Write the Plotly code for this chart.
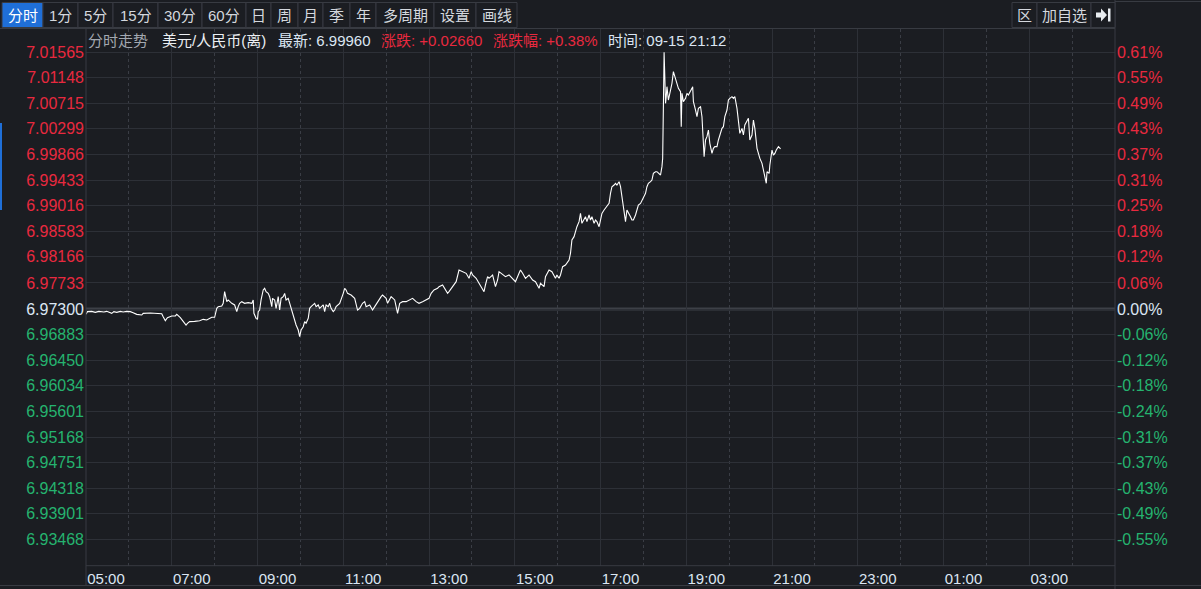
import plotly.graph_objects as go
from datetime import datetime, timedelta

# ---------------- data ----------------
trade_date = "2022-09-15"
base_price = 6.97300

times = [
    "05:00", "05:02", "05:08", "05:13", "05:18", "05:25", "05:29", "05:36", "05:39", "05:43",
    "05:48", "05:52", "05:57", "06:02", "06:06", "06:11", "06:18", "06:20", "06:30", "06:39",
    "06:46", "06:48", "06:51", "06:54", "07:00", "07:05", "07:07", "07:12", "07:16", "07:20",
    "07:22", "07:25", "07:32", "07:39", "07:44", "07:49", "07:56", "08:00", "08:03", "08:05",
    "08:10", "08:12", "08:14", "08:17", "08:19", "08:24", "08:28", "08:31", "08:33", "08:35",
    "08:38", "08:42", "08:47", "08:52", "08:54", "08:55", "08:58", "09:00", "09:01", "09:03",
    "09:05", "09:08", "09:10", "09:12", "09:15", "09:17", "09:20", "09:21", "09:24", "09:26",
    "09:29", "09:31", "09:33", "09:36", "09:38", "09:40", "09:43", "09:45", "09:47", "09:50",
    "09:52", "09:54", "09:57", "09:59", "10:01", "10:04", "10:06", "10:08", "10:11", "10:13",
    "10:15", "10:20", "10:22", "10:25", "10:27", "10:29", "10:32", "10:34", "10:36", "10:39",
    "10:41", "10:43", "10:46", "10:48", "10:50", "10:55", "10:57", "11:00", "11:02", "11:04",
    "11:06", "11:11", "11:16", "11:18", "11:20", "11:23", "11:27", "11:30", "11:32", "11:37",
    "11:41", "11:44", "11:48", "11:53", "11:55", "12:00", "12:02", "12:07", "12:12", "12:16",
    "12:19", "12:23", "12:28", "12:32", "12:37", "12:42", "12:46", "12:51", "12:56", "13:00",
    "13:03", "13:07", "13:12", "13:14", "13:19", "13:24", "13:26", "13:28", "13:33", "13:38",
    "13:42", "13:47", "13:52", "13:56", "13:59", "14:01", "14:06", "14:10", "14:15", "14:17",
    "14:19", "14:22", "14:24", "14:29", "14:33", "14:36", "14:38", "14:43", "14:47", "14:52",
    "14:57", "15:01", "15:06", "15:08", "15:11", "15:15", "15:20", "15:25", "15:29", "15:34",
    "15:36", "15:41", "15:43", "15:48", "15:52", "15:57", "15:59", "16:02", "16:04", "16:07",
    "16:11", "16:16", "16:18", "16:20", "16:23", "16:25", "16:27", "16:30", "16:32", "16:34",
    "16:37", "16:39", "16:41", "16:44", "16:46", "16:48", "16:51", "16:53", "16:55", "16:58",
    "17:00", "17:02", "17:05", "17:07", "17:09", "17:12", "17:14", "17:16", "17:19", "17:21",
    "17:23", "17:26", "17:28", "17:30", "17:33", "17:35", "17:37", "17:40", "17:42", "17:44",
    "17:46", "17:49", "17:51", "17:53", "17:56", "17:58", "18:00", "18:03", "18:05", "18:07",
    "18:10", "18:12", "18:14", "18:17", "18:19", "18:21", "18:24", "18:26", "18:27", "18:28",
    "18:29", "18:30", "18:31", "18:32", "18:33", "18:35", "18:38", "18:40", "18:42", "18:45",
    "18:47", "18:49", "18:52", "18:53", "18:54", "18:56", "18:59", "19:01", "19:03", "19:06",
    "19:08", "19:09", "19:10", "19:13", "19:15", "19:17", "19:20", "19:22", "19:23", "19:25",
    "19:27", "19:29", "19:31", "19:33", "19:36", "19:38", "19:40", "19:43", "19:45", "19:47",
    "19:50", "19:52", "19:54", "19:57", "19:59", "20:01", "20:04", "20:06", "20:08", "20:11",
    "20:13", "20:15", "20:18", "20:20", "20:22", "20:25", "20:27", "20:29", "20:32", "20:34",
    "20:36", "20:39", "20:41", "20:43", "20:46", "20:48", "20:50", "20:52", "20:53", "20:56",
    "20:57", "21:00", "21:02", "21:04", "21:06", "21:09", "21:12",
]

prices = [
    6.97211, 6.97256, 6.97261, 6.97245, 6.97261, 6.97250, 6.97261, 6.97228, 6.97256, 6.97245,
    6.97261, 6.97250, 6.97261, 6.97256, 6.97239, 6.97211, 6.97200, 6.97228, 6.97234, 6.97228,
    6.97222, 6.97173, 6.97106, 6.97156, 6.97184, 6.97184, 6.97211, 6.97156, 6.97101, 6.97034,
    6.97062, 6.97090, 6.97095, 6.97106, 6.97128, 6.97117, 6.97162, 6.97162, 6.97311, 6.97339,
    6.97350, 6.97394, 6.97588, 6.97422, 6.97450, 6.97394, 6.97367, 6.97256, 6.97339, 6.97394,
    6.97422, 6.97394, 6.97405, 6.97394, 6.97450, 6.97228, 6.97145, 6.97128, 6.97256, 6.97283,
    6.97450, 6.97616, 6.97643, 6.97588, 6.97560, 6.97505, 6.97339, 6.97477, 6.97450, 6.97311,
    6.97505, 6.97283, 6.97477, 6.97505, 6.97560, 6.97450, 6.97477, 6.97394, 6.97339, 6.97228,
    6.97117, 6.97034, 6.96951, 6.96840, 6.96951, 6.97006, 6.97090, 6.97062, 6.97145, 6.97311,
    6.97339, 6.97394, 6.97339, 6.97367, 6.97311, 6.97339, 6.97367, 6.97256, 6.97367, 6.97339,
    6.97394, 6.97311, 6.97256, 6.97283, 6.97339, 6.97394, 6.97450, 6.97560, 6.97643, 6.97616,
    6.97560, 6.97533, 6.97477, 6.97367, 6.97283, 6.97311, 6.97394, 6.97422, 6.97339, 6.97367,
    6.97283, 6.97339, 6.97422, 6.97505, 6.97533, 6.97477, 6.97394, 6.97505, 6.97450, 6.97228,
    6.97394, 6.97422, 6.97422, 6.97450, 6.97477, 6.97422, 6.97394, 6.97422, 6.97450, 6.97477,
    6.97560, 6.97616, 6.97643, 6.97671, 6.97699, 6.97588, 6.97560, 6.97588, 6.97671, 6.97754,
    6.97948, 6.97920, 6.97893, 6.97810, 6.97920, 6.97865, 6.97810, 6.97727, 6.97643, 6.97588,
    6.97699, 6.97837, 6.97810, 6.97865, 6.97671, 6.97782, 6.97920, 6.97865, 6.97837, 6.97865,
    6.97810, 6.97754, 6.97893, 6.97948, 6.97893, 6.97810, 6.97865, 6.97782, 6.97754, 6.97643,
    6.97727, 6.97671, 6.97837, 6.97948, 6.97920, 6.97810, 6.97865, 6.97810, 6.97865, 6.98003,
    6.98031, 6.98114, 6.98225, 6.98446, 6.98502, 6.98612, 6.98668, 6.98751, 6.98889, 6.98723,
    6.98778, 6.98834, 6.98751, 6.98862, 6.98778, 6.98834, 6.98723, 6.98778, 6.98751, 6.98668,
    6.98778, 6.98889, 6.98945, 6.98972, 6.99000, 6.99055, 6.99222, 6.99332, 6.99360, 6.99388,
    6.99360, 6.99415, 6.99332, 6.99166, 6.99000, 6.98751, 6.98945, 6.98889, 6.98834, 6.98778,
    6.98778, 6.98862, 6.98972, 6.99028, 6.99055, 6.99111, 6.99138, 6.99222, 6.99332, 6.99388,
    6.99415, 6.99443, 6.99554, 6.99581, 6.99581, 6.99554, 6.99526, 6.99665, 6.99803, 7.00661,
    7.01565, 7.01160, 7.00717, 7.00828, 7.00994, 7.00772, 7.00938, 7.01049, 7.01243, 7.01104,
    7.01049, 7.00966, 7.00911, 7.00329, 7.00883, 7.00744, 7.00800, 7.00883, 7.00855, 7.00911,
    7.00966, 7.00994, 7.00744, 7.00606, 7.00495, 7.00634, 7.00661, 7.00495, 7.00301, 6.99831,
    7.00108, 7.00163, 7.00274, 7.00052, 6.99886, 6.99969, 6.99997, 6.99997, 7.00108, 7.00191,
    7.00301, 7.00329, 7.00495, 7.00606, 7.00772, 7.00800, 7.00828, 7.00800, 7.00828, 7.00634,
    7.00440, 7.00218, 7.00301, 7.00191, 7.00357, 7.00440, 7.00468, 7.00108, 7.00191, 7.00440,
    7.00301, 6.99969, 6.99858, 6.99803, 6.99720, 6.99609, 6.99554, 6.99388, 6.99581, 6.99554,
    6.99692, 6.99941, 6.99858, 6.99886, 6.99941, 6.99997, 6.99960,
]

price_ticks = ["7.01565", "7.01148", "7.00715", "7.00299", "6.99866", "6.99433", "6.99016",
               "6.98583", "6.98166", "6.97733", "6.97300", "6.96883", "6.96450", "6.96034",
               "6.95601", "6.95168", "6.94751", "6.94318", "6.93901", "6.93468"]
pct_ticks = ["0.61%", "0.55%", "0.49%", "0.43%", "0.37%", "0.31%", "0.25%", "0.18%", "0.12%",
             "0.06%", "0.00%", "-0.06%", "-0.12%", "-0.18%", "-0.24%", "-0.31%", "-0.37%",
             "-0.43%", "-0.49%", "-0.55%"]
x_tick_labels = ["05:00", "07:00", "09:00", "11:00", "13:00", "15:00", "17:00", "19:00",
                 "21:00", "23:00", "01:00", "03:00"]

toolbar_labels = ["分时", "1分", "5分", "15分", "30分", "60分", "日", "周", "月", "季", "年",
                  "多周期", "设置", "画线"]
right_buttons = ["区", "加自选"]
title_name = "美元/人民币(离)"
title_kind = "分时走势"

# ---------------- derived ----------------
x_vals = [datetime.strptime(f"{trade_date} {t}", "%Y-%m-%d %H:%M") for t in times]
session_start = datetime.strptime(f"{trade_date} 05:00", "%Y-%m-%d %H:%M")
session_end = session_start + timedelta(hours=24)
x_tick_vals = [session_start + timedelta(hours=2 * i) for i in range(len(x_tick_labels))]

last_price = prices[-1]
change = last_price - base_price
change_pct = change / base_price * 100
last_time = x_vals[-1]

# ---------------- styling ----------------
W, H = 1201, 589
BG = "#1b1d22"
GRID = "#2d3037"
BORDER = "#383b42"
RED = "#e8293f"
GREEN = "#25b36f"
NEUTRAL = "#dbe6f3"
FONT = "Arial, 'Liberation Sans', 'Noto Sans CJK SC', sans-serif"


def px(x):
    return x / W


def py(y):
    return 1 - y / H


PLOT_L, PLOT_R, PLOT_T, PLOT_B = 86, 1115, 29, 565.7
Y_BASE_PX, Y_TOP_TICK_PX = 309.0, 52.3
k = (float(price_ticks[0]) - base_price) / (Y_BASE_PX - Y_TOP_TICK_PX)
y_range = [base_price - (PLOT_B - Y_BASE_PX) * k, base_price + (Y_BASE_PX - PLOT_T) * k]


def colored(label, value):
    if abs(value - base_price) < 1e-9:
        c = NEUTRAL
    elif value > base_price:
        c = RED
    else:
        c = GREEN
    return f"<span style='color:{c}'>{label}</span>"


tick_vals = [float(v) for v in price_ticks]
left_text = [colored(lbl, v) for lbl, v in zip(price_ticks, tick_vals)]
right_text = [colored(lbl, v) for lbl, v in zip(pct_ticks, tick_vals)]

fig = go.Figure()
fig.add_trace(go.Scatter(
    x=x_vals, y=prices, mode="lines",
    line=dict(color="#ffffff", width=1.1),
    hoverinfo="skip", showlegend=False,
))
fig.add_trace(go.Scatter(
    x=[x_vals[0]], y=[base_price], yaxis="y2", mode="markers",
    marker=dict(opacity=0), hoverinfo="skip", showlegend=False,
))

shapes = []
# baseline (previous close)
shapes.append(dict(type="line", xref="x domain", yref="y", x0=0, x1=1,
                   y0=base_price, y1=base_price, line=dict(color="#3d4047", width=3), layer="below"))
# frame lines
shapes.append(dict(type="line", xref="paper", yref="paper", x0=px(PLOT_L), x1=px(PLOT_L),
                   y0=py(28), y1=py(586), line=dict(color=BORDER, width=1)))
shapes.append(dict(type="line", xref="paper", yref="paper", x0=px(PLOT_R), x1=px(PLOT_R),
                   y0=py(0), y1=py(589), line=dict(color=BORDER, width=1)))
shapes.append(dict(type="line", xref="paper", yref="paper", x0=0, x1=px(PLOT_R),
                   y0=py(28.5), y1=py(28.5), line=dict(color=BORDER, width=1)))
shapes.append(dict(type="line", xref="paper", yref="paper", x0=px(PLOT_L), x1=px(PLOT_R),
                   y0=py(PLOT_B), y1=py(PLOT_B), line=dict(color=BORDER, width=1)))
shapes.append(dict(type="line", xref="paper", yref="paper", x0=0, x1=1,
                   y0=py(585.5), y1=py(585.5), line=dict(color=BORDER, width=1)))
shapes.append(dict(type="line", xref="paper", yref="paper", x0=px(PLOT_R), x1=1,
                   y0=py(1.5), y1=py(1.5), line=dict(color=BORDER, width=1)))
# left blue marker bar
shapes.append(dict(type="rect", xref="paper", yref="paper", x0=0, x1=px(2),
                   y0=py(210), y1=py(123), line=dict(width=0), fillcolor="#1f6fd8"))

# toolbar buttons
btn_edges = [2, 43, 78, 113, 158, 202, 246, 271, 298, 323, 350, 376, 434, 476, 517]
annotations = []
for i, lbl in enumerate(toolbar_labels):
    x0, x1 = btn_edges[i], btn_edges[i + 1]
    active = i == 0
    shapes.append(dict(type="rect", xref="paper", yref="paper", x0=px(x0), x1=px(x1),
                       y0=py(27.5), y1=py(2.5),
                       line=dict(color=BORDER, width=1),
                       fillcolor="#1f6fd8" if active else BG))
    annotations.append(dict(xref="paper", yref="paper", x=px((x0 + x1) / 2), y=py(15),
                            text=lbl, showarrow=False, xanchor="center", yanchor="middle",
                            font=dict(family=FONT, size=15, color="#ffffff" if active else "#d4d8de")))

rb_edges = [1012, 1037, 1091, 1115]
for i, lbl in enumerate(right_buttons):
    x0, x1 = rb_edges[i], rb_edges[i + 1]
    shapes.append(dict(type="rect", xref="paper", yref="paper", x0=px(x0), x1=px(x1),
                       y0=py(27.5), y1=py(2.5), line=dict(color=BORDER, width=1), fillcolor=BG))
    annotations.append(dict(xref="paper", yref="paper", x=px((x0 + x1) / 2), y=py(15),
                            text=lbl, showarrow=False, xanchor="center", yanchor="middle",
                            font=dict(family=FONT, size=15, color="#d4d8de")))
shapes.append(dict(type="rect", xref="paper", yref="paper", x0=px(1091), x1=px(1115),
                   y0=py(27.5), y1=py(2.5), line=dict(color=BORDER, width=1), fillcolor=BG))
# arrow icon
shapes.append(dict(type="path", xref="paper", yref="paper",
                   path=(f"M {px(1096)} {py(12.5)} L {px(1101)} {py(12.5)} L {px(1101)} {py(8.5)} "
                         f"L {px(1107)} {py(15)} L {px(1101)} {py(21.5)} L {px(1101)} {py(17.5)} "
                         f"L {px(1096)} {py(17.5)} Z"),
                   line=dict(width=0), fillcolor="#e8ecf0"))
shapes.append(dict(type="rect", xref="paper", yref="paper", x0=px(1108), x1=px(1110.5),
                   y0=py(21.5), y1=py(8.5), line=dict(width=0), fillcolor="#e8ecf0"))

# title row
sign = "+" if change >= 0 else "-"
title_parts = [
    (86, title_kind, "#a3a8b0"),
    (160, title_name, "#eceff3"),
    (276, f"最新: {last_price:.5f}", NEUTRAL),
    (379, f"涨跌: {sign}{abs(change):.5f}", RED if change >= 0 else GREEN),
    (491, f"涨跌幅: {sign}{abs(change_pct):.2f}%", RED if change >= 0 else GREEN),
    (606, f"时间: {last_time.strftime('%m-%d %H:%M')}", NEUTRAL),
]
for x, txt, col in title_parts:
    annotations.append(dict(xref="paper", yref="paper", x=px(x), y=py(40.5), text=txt,
                            showarrow=False, xanchor="left", yanchor="middle",
                            font=dict(family=FONT, size=15, color=col)))

fig.update_layout(
    width=W, height=H,
    margin=dict(l=0, r=0, t=0, b=0),
    paper_bgcolor=BG, plot_bgcolor=BG,
    showlegend=False,
    hovermode=False,
    shapes=shapes,
    annotations=annotations,
    xaxis=dict(
        type="date",
        domain=[px(PLOT_L), px(PLOT_R)],
        range=[session_start, session_end],
        tickmode="array", tickvals=x_tick_vals, ticktext=x_tick_labels,
        showgrid=True, gridcolor=GRID, gridwidth=1,
        zeroline=False, showline=False, ticks="",
        tickfont=dict(family=FONT, size=15, color=NEUTRAL),
        ticklabelshift=20, ticklabelstandoff=2,
        minor=dict(dtick=3600000, tick0=session_start, showgrid=True,
                   gridcolor="#3a3d45", griddash="dot", gridwidth=1, ticks=""),
        fixedrange=True,
    ),
    yaxis=dict(
        domain=[py(PLOT_B), py(PLOT_T)],
        range=y_range,
        tickmode="array", tickvals=tick_vals, ticktext=left_text,
        showgrid=True, gridcolor=GRID, gridwidth=1,
        zeroline=False, showline=False, ticks="",
        tickfont=dict(family=FONT, size=16, color=NEUTRAL),
        ticklabelstandoff=1,
        fixedrange=True,
    ),
    yaxis2=dict(
        overlaying="y", side="right",
        range=y_range,
        tickmode="array", tickvals=tick_vals, ticktext=right_text,
        showgrid=False, zeroline=False, showline=False, ticks="",
        tickfont=dict(family=FONT, size=16, color=NEUTRAL),
        ticklabelstandoff=1,
        fixedrange=True,
    ),
)

fig.write_html(
    "out.html",
    config={"displayModeBar": False, "staticPlot": True},
    post_script="document.body.style.margin='0';document.body.style.background='#1b1d22';",
)
